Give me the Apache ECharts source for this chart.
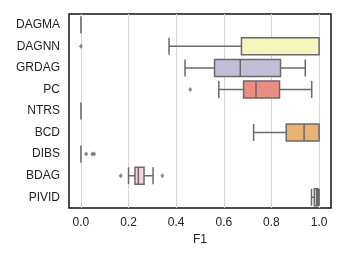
<!DOCTYPE html>
<html><head><meta charset="utf-8">
<script src="https://cdn.jsdelivr.net/npm/echarts@6/dist/echarts.min.js"></script>
<style>html,body{margin:0;padding:0;background:#fff}#c{width:345px;height:259px}</style>
</head><body><div id="c"></div>
<script>
var categories = ['DAGMA','DAGNN','GRDAG','PC','NTRS','BCD','DIBS','BDAG','PIVID'];
// [whisker low, Q1, median, Q3, whisker high]
var boxValues = [
  [0,0,0,0,0],
  [0.37,0.674,1.0,1.0,1.0],
  [0.437,0.561,0.669,0.838,0.942],
  [0.579,0.683,0.735,0.834,0.969],
  [0,0,0,0,0],
  [0.725,0.862,0.937,1.0,1.0],
  [0,0,0,0,0],
  [0.2,0.227,0.241,0.265,0.303],
  [0.968,0.98,0.99,0.995,1.0]
];
var boxColors = ['#a6d0c9','#f5f5bc','#c1bfd6','#ea8d83','#95b2c9','#eab375','#b8d486','#f6d3e4','#d9d9d9'];
// outliers: [value, category]
var outliers = [
  [0,'DAGNN'],
  [0.459,'PC'],
  [0.022,'DIBS'],[0.048,'DIBS'],[0.056,'DIBS'],
  [0.167,'BDAG'],[0.342,'BDAG']
];
var xTicks = [0,0.2,0.4,0.6,0.8,1.0];

var chart = echarts.init(document.getElementById('c'));
var font = 'Liberation Sans, Arial, sans-serif';
chart.setOption({
  animation:false,
  grid:{left:69,top:14,right:14,bottom:51,show:true,borderColor:'#111',borderWidth:1.5,backgroundColor:'transparent'},
  xAxis:{type:'value',min:-0.05,max:1.05,
    name:'F1',nameLocation:'middle',nameGap:24,nameTextStyle:{fontFamily:font,fontSize:12,color:'#222'},
    axisLine:{show:false},axisTick:{show:false},splitLine:{show:false},
    axisLabel:{customValues:xTicks,fontFamily:font,fontSize:12,color:'#222',margin:9,
      formatter:function(v){return v.toFixed(1);}}},
  yAxis:{type:'category',data:categories,inverse:true,
    axisLine:{show:false},axisTick:{show:false},splitLine:{show:false},
    axisLabel:{fontFamily:font,fontSize:12,color:'#222',margin:9}},
  series:[
    {type:'boxplot',layout:'horizontal',boxWidth:[17,17],
      data:boxValues.map(function(v,i){return {value:v,itemStyle:{color:boxColors[i],borderColor:'#6a6a6a',borderWidth:1.5}};}),
      markLine:{silent:true,symbol:'none',label:{show:false},z:0,
        lineStyle:{color:'#d6d6d6',width:1,type:'solid'},
        data:xTicks.map(function(t){return {xAxis:t};})},
      z:3},
    {type:'scatter',symbol:'diamond',symbolSize:[4,5],
      itemStyle:{color:'#6a6a6a'},data:outliers,z:4}
  ]
});
</script></body></html>
